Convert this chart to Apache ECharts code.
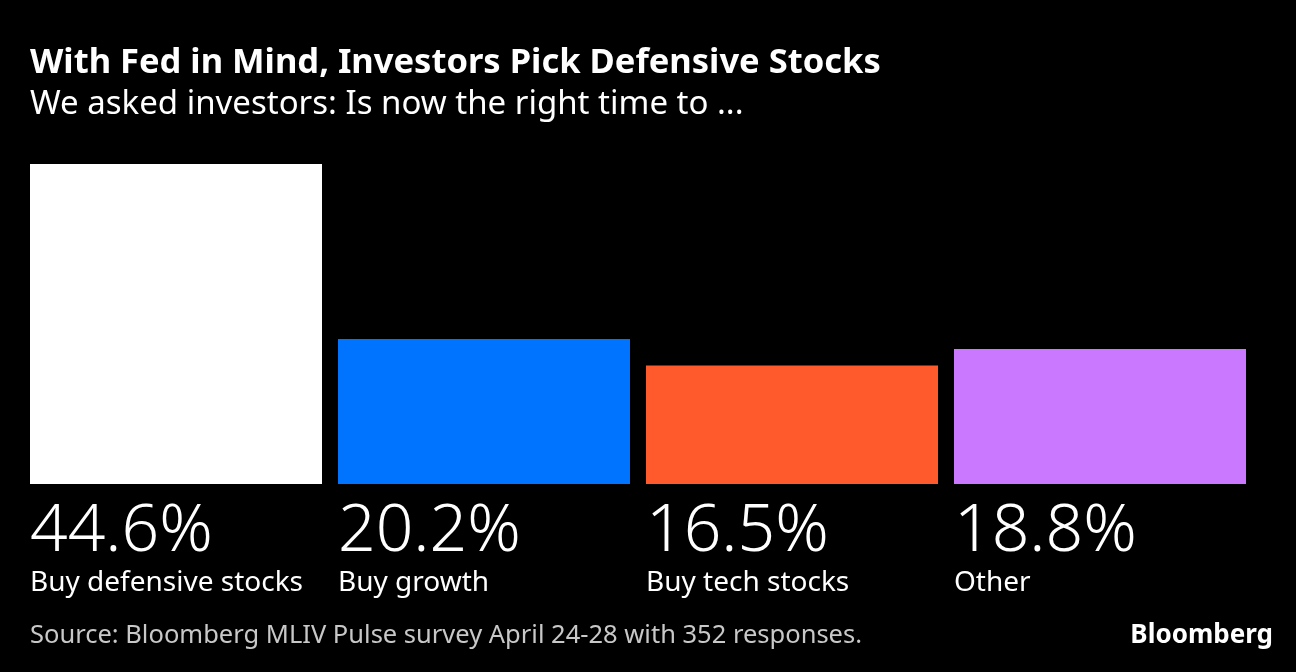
<!DOCTYPE html>
<html>
<head>
<meta charset="utf-8">
<script src="https://cdn.jsdelivr.net/npm/echarts@6/dist/echarts.min.js"></script>
<style>
html,body{margin:0;padding:0;background:#000;}
#chart{width:1296px;height:672px;}
</style>
</head>
<body>
<div id="chart"></div>
<script>
const categories = ['Buy defensive stocks', 'Buy growth', 'Buy tech stocks', 'Other'];
const values = [44.6, 20.2, 16.5, 18.8];
const barColors = ['#ffffff', '#0073ff', '#ff5a2b', '#c978ff'];

const FONT = '"Noto Sans", sans-serif';
const chart = echarts.init(document.getElementById('chart'));
chart.setOption({
  backgroundColor: '#000000',
  animation: false,
  title: [
    { text: 'With Fed in Mind, Investors Pick Defensive Stocks', left: 30, top: 43, padding: 0,
      textStyle: { color: '#ffffff', fontFamily: FONT, fontWeight: 'bold', fontSize: 34.5, lineHeight: 40 } },
    { text: 'We asked investors: Is now the right time to ...', left: 30, top: 86, padding: 0,
      textStyle: { color: '#ffffff', fontFamily: FONT, fontWeight: 'normal', fontSize: 33, lineHeight: 38 } },
    { text: 'Source: Bloomberg MLIV Pulse survey April 24-28 with 352 responses.', left: 30, top: 620, padding: 0,
      textStyle: { color: '#c8c8c8', fontFamily: FONT, fontWeight: 'normal', fontSize: 25.5, lineHeight: 32 } },
    { text: 'Bloomberg', right: 23, top: 620, padding: 0,
      textStyle: { color: '#ffffff', fontFamily: FONT, fontWeight: 'bold', fontSize: 26, lineHeight: 32 } }
  ],
  grid: { left: 22, right: 42, top: 164, bottom: 188, containLabel: false },
  xAxis: {
    type: 'category', data: categories,
    axisLine: { show: false }, axisTick: { show: false }, axisLabel: { show: false }, splitLine: { show: false }
  },
  yAxis: {
    type: 'value', min: 0, max: 44.6,
    axisLine: { show: false }, axisTick: { show: false }, axisLabel: { show: false }, splitLine: { show: false }
  },
  series: [{
    type: 'bar',
    barWidth: 292,
    data: values.map((v, i) => ({ value: v, itemStyle: { color: barColors[i] } })),
    label: {
      show: true,
      position: [0, '100%'],
      offset: [0, 13],
      align: 'left',
      verticalAlign: 'top',
      formatter: p => '{v|' + p.value.toFixed(1) + '%}\n{c|' + p.name + '}',
      rich: {
        v: { color: '#ffffff', fontFamily: FONT, fontWeight: 300, fontSize: 66, lineHeight: 70 },
        c: { color: '#ffffff', fontFamily: FONT, fontWeight: 'normal', fontSize: 28, lineHeight: 32 }
      }
    }
  }]
});
</script>
</body>
</html>
